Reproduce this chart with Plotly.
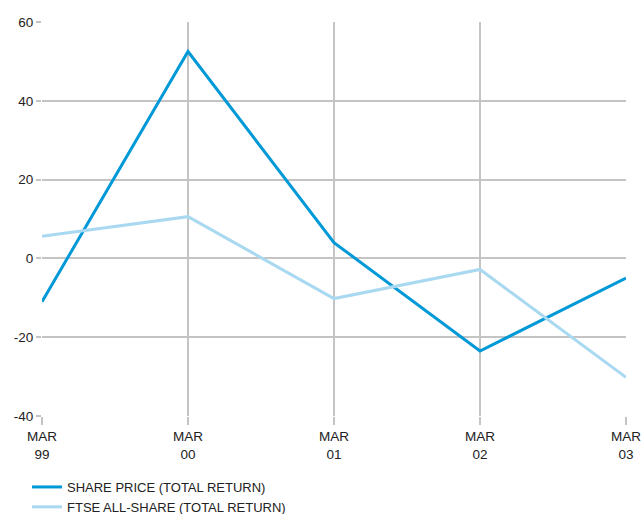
import plotly.graph_objects as go

categories = ["MAR<br>99", "MAR<br>00", "MAR<br>01", "MAR<br>02", "MAR<br>03"]
share_price = [-11.0, 52.5, 4.0, -23.5, -5.0]
ftse_all_share = [5.6, 10.6, -10.2, -2.8, -30.2]
y_ticks = [-40, -20, 0, 20, 40, 60]
y_tick_labels = ["-40", "-20", "0", "20", "40", "60"]

fig = go.Figure()
fig.add_trace(go.Scatter(x=categories, y=share_price, mode="lines",
                         name="SHARE PRICE (TOTAL RETURN)",
                         line=dict(color="#0099d8", width=3)))
fig.add_trace(go.Scatter(x=categories, y=ftse_all_share, mode="lines",
                         name="FTSE ALL-SHARE (TOTAL RETURN)",
                         line=dict(color="#a9d9f0", width=3)))

grid = "#c4c4c4"
fig.update_layout(
    width=642, height=514,
    margin=dict(l=42, r=16, t=22, b=98, autoexpand=False),
    paper_bgcolor="white", plot_bgcolor="white",
    font=dict(family="Liberation Sans, Arial, sans-serif", size=13.5, color="#222"),
    showlegend=True,
    legend=dict(orientation="v", x=27 / 642, xref="container", xanchor="left",
                y=1 - 472 / 514, yref="container", yanchor="top",
                font=dict(size=13), tracegroupgap=0, itemwidth=30,
                bgcolor="rgba(0,0,0,0)"),
    xaxis=dict(type="category", range=[0, 4], showgrid=True, gridcolor=grid, gridwidth=1.5,
               ticks="outside", ticklen=8, tickcolor=grid, tickwidth=1.5,
               showline=False, zeroline=False, automargin=False),
    yaxis=dict(range=[-40, 60], tickvals=y_ticks, ticktext=y_tick_labels,
               showgrid=True, gridcolor=grid, gridwidth=1.5,
               ticks="outside", ticklen=5, tickcolor=grid, tickwidth=1.5,
               showline=False, zeroline=False, automargin=False),
)
fig.write_html("out.html")
